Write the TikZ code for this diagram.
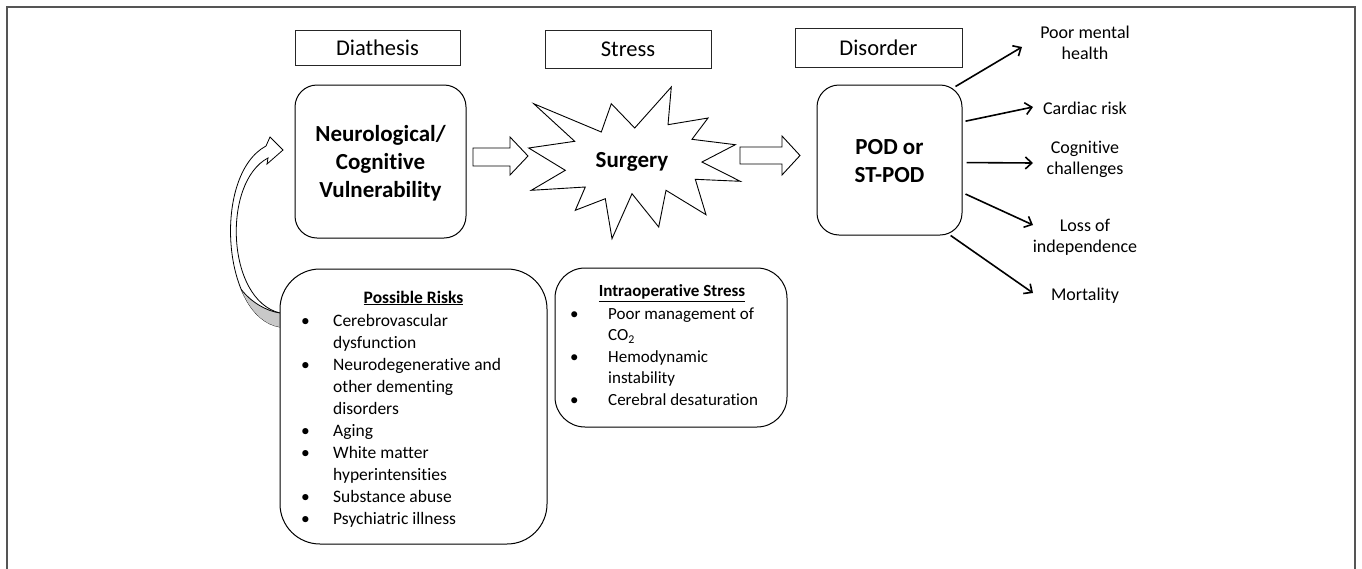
\documentclass[tikz,border=0pt]{standalone}
\usepackage{fontspec}
\setmainfont[Ligatures=NoCommon]{Carlito}
\usetikzlibrary{arrows.meta,calc}
\definecolor{framegray}{RGB}{85,85,85}
\definecolor{undergray}{RGB}{200,200,200}
\begin{document}
\begin{tikzpicture}[x=1pt,y=-1pt,
  hdr/.style={draw=black!85,line width=0.9pt,inner sep=0pt,font=\fontsize{22.5}{26}\selectfont},
  rbox/.style={draw=black,line width=1pt,rounded corners=#1,fill=white,inner sep=0pt},
  bigtxt/.style={font=\fontsize{23}{28}\selectfont\bfseries,align=center},
  lbl/.style={font=\fontsize{18}{21}\selectfont,align=center,inner sep=0pt},
  outarr/.style={line width=1.6pt,-{Straight Barb[length=6.5pt,width=12pt,line width=1.6pt]}},
  hollow/.style={draw=black,line width=0.9pt,fill=white,line join=miter},
  listfont/.style={font=\fontsize{17.5}{22}\selectfont,inner sep=0pt}
]
\useasboundingbox (0,0) rectangle (1362,568);
% outer frame
\draw[framegray,line width=1.6pt] (7,575) -- (7,7) -- (1355,7) -- (1355,575);

% header boxes
\node[hdr,minimum width=165pt,minimum height=35pt] (diath) at (377.5,47.5) {Diathesis};
\node[hdr,minimum width=166pt,minimum height=38pt] (stress) at (628,49) {Stress};
\node[hdr,minimum width=167pt,minimum height=39pt] (disord) at (878.5,47.5) {Disorder};

% curved feedback arrow
\coordinate (cbot1) at (280,327);
\coordinate (cbot2) at (280,313);
\coordinate (s1) at (266,146);
\coordinate (h1) at (270,137);
\coordinate (ctip) at (283,150);
\coordinate (h2) at (267,164);
\coordinate (s2) at (268,158);
\coordinate (gtip) at (241.2,289.4);
\draw[hollow,line width=0.8pt,line join=miter] (cbot1) .. controls (222,318) and (212,175) .. (s1)
  -- (h1) -- (ctip) -- (h2) -- (s2) .. controls (222,182) and (226,300) .. (cbot2) -- cycle;
\fill[undergray] (cbot1) .. controls (262.6,324.3) and (249.5,309.5) .. (gtip) .. controls (251,302) and (266,311) .. (cbot2) -- cycle;
\draw[line width=0.8pt] (gtip) .. controls (251,302) and (266,311) .. (cbot2);

% main boxes
\node[rbox=22pt,minimum width=171pt,minimum height=153pt] (neuro) at (380.5,161.5) {};
\node[bigtxt] (neurotxt) at (380.5,163) {Neurological/\\Cognitive\\Vulnerability};

\node[rbox=22pt,minimum width=145pt,minimum height=150pt] (pod) at (889.5,160) {};
\node[bigtxt] (podtxt) at (889.5,161) {POD or\\ST-POD};

% starburst
\draw[line width=0.9pt,fill=white,line join=miter]
 (533.7,103.7) -- (601.3,132) -- (611.3,103.7) -- (634.7,128) -- (671.3,87) -- (668,124.7)
 -- (708,118) -- (692,139.3) -- (735.3,144.7) -- (702,162) -- (740.3,181.3) -- (695.3,179.3)
 -- (706,214.7) -- (666,190.3) -- (658.7,227) -- (632,193.7) -- (612,238.7) -- (605.3,198.7)
 -- (575.3,210.3) -- (585.3,187) -- (531.3,190.3) -- (565.3,170.3) -- (528.7,148) -- (574.7,141.3) -- cycle;
\node[bigtxt] (surg) at (632,162) {Surgery};

% hollow block arrows
\draw[hollow] (473,148) -- (510,148) -- (510,137) -- (528,156) -- (510,175) -- (510,166) -- (473,166) -- cycle;
\draw[hollow] (740,147) -- (782,147) -- (782,136) -- (800,155.5) -- (782,175) -- (782,164) -- (740,164) -- cycle;

% outcome labels
\node[lbl] (poor) at (1085,43) {Poor mental\\health};
\node[lbl] (card) at (1085,108) {Cardiac risk};
\node[lbl] (cogn) at (1085,159) {Cognitive\\challenges};
\node[lbl] (loss) at (1085,237) {Loss of\\independence};
\node[lbl] (mort) at (1085,296) {Mortality};
\coordinate (e1) at (1022,47);
\coordinate (e2) at (1033,107);
\coordinate (e3) at (1033,163);
\coordinate (e4) at (1033,225);
\coordinate (e5) at (1033,293);
\draw[outarr] ($(pod.48)+(-2,2)$) -- (e1);
\draw[outarr] ($(pod.28)+(3,0)$) -- (e2);
\draw[outarr] ($(pod.-2)+(4,0)$) -- (e3);
\draw[outarr] ($(pod.-25)+(3,0)$) -- (e4);
\draw[outarr] (pod.-51) -- (e5);

% possible risks box
\node[rbox=40pt,minimum width=267pt,minimum height=275pt] (risks) at (413.5,406.5) {};
\node[listfont,font=\fontsize{17.5}{22}\selectfont\bfseries] (riskttl) at (413.5,298) {\underline{Possible Risks}};
\node[listfont,anchor=base west] (risklist) at (301,326) {%
\begin{tabular}[t]{@{}p{32pt}@{}l@{}}
\textbullet & Cerebrovascular\\
 & dysfunction\\
\textbullet & Neurodegenerative and\\
 & other dementing\\
 & disorders\\
\textbullet & Aging\\
\textbullet & White matter\\
 & hyperintensities\\
\textbullet & Substance abuse\\
\textbullet & Psychiatric illness
\end{tabular}};

% intraoperative stress box
\node[rbox=30pt,minimum width=232pt,minimum height=159pt] (intra) at (671,347.5) {};
\node[listfont,font=\fontsize{17}{21.5}\selectfont\bfseries] (intrattl) at (672,293) {\underline{Intraoperative Stress}};
\node[listfont,font=\fontsize{17}{21.5}\selectfont,anchor=base west] (intralist) at (570,319) {%
\begin{tabular}[t]{@{}p{38pt}@{}l@{}}
\textbullet & Poor management of\\
 & CO\textsubscript{2}\\
\textbullet & Hemodynamic\\
 & instability\\
\textbullet & Cerebral desaturation
\end{tabular}};
\end{tikzpicture}
\end{document}
